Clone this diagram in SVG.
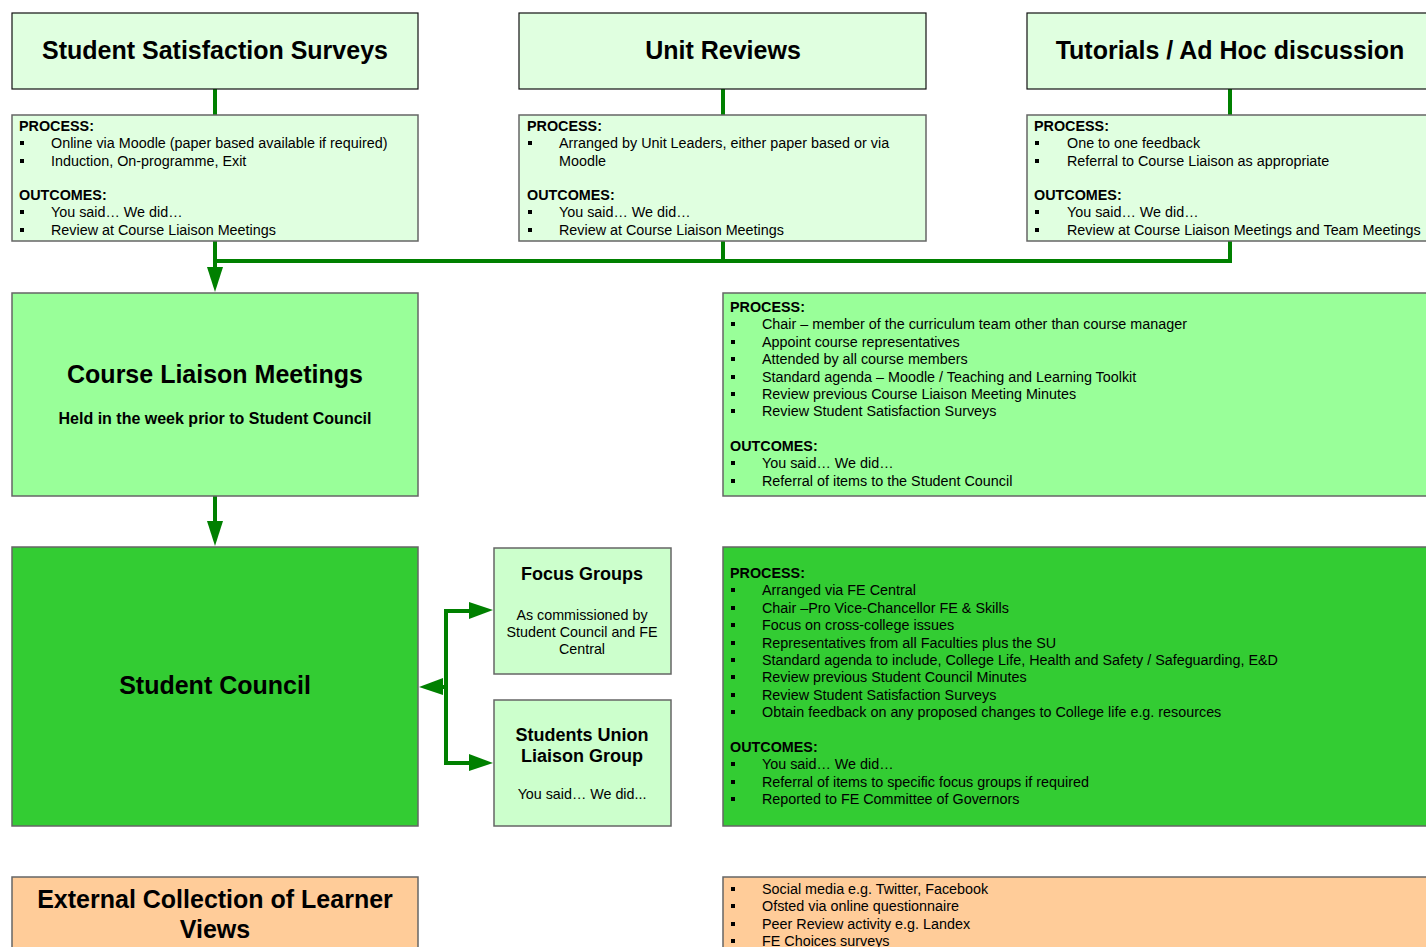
<svg xmlns="http://www.w3.org/2000/svg" width="1426" height="947" viewBox="0 0 1426 947">
<style>
text{font-family:"Liberation Sans",Arial,sans-serif;fill:#000}
.t{font-size:25px;font-weight:bold;text-anchor:middle}
.h{font-size:14.35px;font-weight:bold}
.i{font-size:14.35px}
.c{font-size:14.3px;text-anchor:middle}
.m{font-size:18px;font-weight:bold;text-anchor:middle}
.hd{stroke:#111;stroke-width:1.2}
.bx{stroke:#666;stroke-width:1.5}
.l1{fill:#E0FFE0}
.l2{fill:#CCFFCC}
.l3{fill:#99FF99}
.l4{fill:#33CC33}
.or{fill:#FFCC99}
.cn{stroke:#008000;stroke-width:4;fill:none}
.ah{fill:#008000}
</style>
<defs>
<rect id="b" width="4" height="4" fill="#000"/>
</defs>
<rect width="1426" height="947" fill="#fff"/>

<g id="connectors">
<line class="cn" x1="215" y1="89" x2="215" y2="115"/>
<line class="cn" x1="723" y1="89" x2="723" y2="115"/>
<line class="cn" x1="1230" y1="89" x2="1230" y2="115"/>
<polyline class="cn" points="723,241 723,261"/>
<polyline class="cn" points="215,261 1230,261 1230,241"/>
<line class="cn" x1="215" y1="241" x2="215" y2="270"/>
<polygon class="ah" points="207,267 223,267 215,292"/>
<line class="cn" x1="215" y1="496" x2="215" y2="524"/>
<polygon class="ah" points="207,521 223,521 215,546"/>
<polyline class="cn" points="472,611 446,611 446,763 472,763"/>
<polygon class="ah" points="469,602 469,619 493,610"/>
<polygon class="ah" points="469,754 469,771 493,763"/>
<line class="cn" x1="446" y1="687" x2="440" y2="687"/>
<polygon class="ah" points="443,678 443,695 419,687"/>
</g>

<g id="sss">
<rect class="l1 hd" x="12" y="13" width="406" height="76"/>
<text class="t" x="215" y="59">Student Satisfaction Surveys</text>
</g>
<g id="ur">
<rect class="l1 hd" x="519" y="13" width="407" height="76"/>
<text class="t" x="723" y="59">Unit Reviews</text>
</g>
<g id="tut">
<rect class="l1 hd" x="1027" y="13" width="420" height="76"/>
<text class="t" x="1230" y="59">Tutorials / Ad Hoc discussion</text>
</g>

<g id="sss-detail">
<rect class="l1 bx" x="12" y="115" width="406" height="126"/>
<text class="h" x="19" y="131">PROCESS:</text>
<use href="#b" x="20" y="141"/><text class="i" x="51" y="148">Online via Moodle (paper based available if required)</text>
<use href="#b" x="20" y="159"/><text class="i" x="51" y="166">Induction, On-programme, Exit</text>
<text class="h" x="19" y="200">OUTCOMES:</text>
<use href="#b" x="20" y="210"/><text class="i" x="51" y="217">You said… We did…</text>
<use href="#b" x="20" y="228"/><text class="i" x="51" y="235">Review at Course Liaison Meetings</text>
</g>

<g id="ur-detail">
<rect class="l1 bx" x="519" y="115" width="407" height="126"/>
<text class="h" x="527" y="131">PROCESS:</text>
<use href="#b" x="528" y="141"/><text class="i" x="559" y="148">Arranged by Unit Leaders, either paper based or via</text>
<text class="i" x="559" y="166">Moodle</text>
<text class="h" x="527" y="200">OUTCOMES:</text>
<use href="#b" x="528" y="210"/><text class="i" x="559" y="217">You said… We did…</text>
<use href="#b" x="528" y="228"/><text class="i" x="559" y="235">Review at Course Liaison Meetings</text>
</g>

<g id="tut-detail">
<rect class="l1 bx" x="1027" y="115" width="420" height="126"/>
<text class="h" x="1034" y="131">PROCESS:</text>
<use href="#b" x="1035" y="141"/><text class="i" x="1067" y="148">One to one feedback</text>
<use href="#b" x="1035" y="159"/><text class="i" x="1067" y="166">Referral to Course Liaison as appropriate</text>
<text class="h" x="1034" y="200">OUTCOMES:</text>
<use href="#b" x="1035" y="210"/><text class="i" x="1067" y="217">You said… We did…</text>
<use href="#b" x="1035" y="228"/><text class="i" x="1067" y="235">Review at Course Liaison Meetings and Team Meetings</text>
</g>

<g id="clm">
<rect class="l3 bx" x="12" y="293" width="406" height="203"/>
<text class="t" x="215" y="383">Course Liaison Meetings</text>
<text x="215" y="424" style="font-size:16px;font-weight:bold;text-anchor:middle">Held in the week prior to Student Council</text>
</g>

<g id="clm-detail">
<rect class="l3 bx" x="723" y="293" width="720" height="203"/>
<text class="h" x="730" y="312">PROCESS:</text>
<use href="#b" x="731" y="322"/><text class="i" x="762" y="329">Chair – member of the curriculum team other than course manager</text>
<use href="#b" x="731" y="340"/><text class="i" x="762" y="347">Appoint course representatives</text>
<use href="#b" x="731" y="357"/><text class="i" x="762" y="364">Attended by all course members</text>
<use href="#b" x="731" y="375"/><text class="i" x="762" y="382">Standard agenda – Moodle / Teaching and Learning Toolkit</text>
<use href="#b" x="731" y="392"/><text class="i" x="762" y="399">Review previous Course Liaison Meeting Minutes</text>
<use href="#b" x="731" y="409"/><text class="i" x="762" y="416">Review Student Satisfaction Surveys</text>
<text class="h" x="730" y="451">OUTCOMES:</text>
<use href="#b" x="731" y="461"/><text class="i" x="762" y="468">You said… We did…</text>
<use href="#b" x="731" y="479"/><text class="i" x="762" y="486">Referral of items to the Student Council</text>
</g>

<g id="sc">
<rect class="l4 bx" x="12" y="547" width="406" height="279"/>
<text class="t" x="215" y="694">Student Council</text>
</g>

<g id="fg">
<rect class="l2 bx" x="494" y="548" width="177" height="126"/>
<text class="m" x="582" y="580">Focus Groups</text>
<text class="c" x="582" y="620">As commissioned by</text>
<text class="c" x="582" y="637">Student Council and FE</text>
<text class="c" x="582" y="654">Central</text>
</g>

<g id="su">
<rect class="l2 bx" x="494" y="700" width="177" height="126"/>
<text class="m" x="582" y="741">Students Union</text>
<text class="m" x="582" y="762">Liaison Group</text>
<text class="c" x="582" y="799">You said… We did...</text>
</g>

<g id="sc-detail">
<rect class="l4 bx" x="723" y="547" width="720" height="279"/>
<text class="h" x="730" y="578">PROCESS:</text>
<use href="#b" x="731" y="588"/><text class="i" x="762" y="595">Arranged via FE Central</text>
<use href="#b" x="731" y="606"/><text class="i" x="762" y="613">Chair –Pro Vice-Chancellor FE &amp; Skills</text>
<use href="#b" x="731" y="623"/><text class="i" x="762" y="630">Focus on cross-college issues</text>
<use href="#b" x="731" y="641"/><text class="i" x="762" y="648">Representatives from all Faculties plus the SU</text>
<use href="#b" x="731" y="658"/><text class="i" x="762" y="665">Standard agenda to include, College Life, Health and Safety / Safeguarding, E&amp;D</text>
<use href="#b" x="731" y="675"/><text class="i" x="762" y="682">Review previous Student Council Minutes</text>
<use href="#b" x="731" y="693"/><text class="i" x="762" y="700">Review Student Satisfaction Surveys</text>
<use href="#b" x="731" y="710"/><text class="i" x="762" y="717">Obtain feedback on any proposed changes to College life e.g. resources</text>
<text class="h" x="730" y="752">OUTCOMES:</text>
<use href="#b" x="731" y="762"/><text class="i" x="762" y="769">You said… We did…</text>
<use href="#b" x="731" y="780"/><text class="i" x="762" y="787">Referral of items to specific focus groups if required</text>
<use href="#b" x="731" y="797"/><text class="i" x="762" y="804">Reported to FE Committee of Governors</text>
</g>

<g id="ext">
<rect class="or bx" x="12" y="877" width="406" height="90"/>
<text class="t" x="215" y="908">External Collection of Learner</text>
<text class="t" x="215" y="938">Views</text>
</g>

<g id="ext-detail">
<rect class="or bx" x="723" y="877" width="720" height="90"/>
<use href="#b" x="731" y="887"/><text class="i" x="762" y="894">Social media e.g. Twitter, Facebook</text>
<use href="#b" x="731" y="904"/><text class="i" x="762" y="911">Ofsted via online questionnaire</text>
<use href="#b" x="731" y="922"/><text class="i" x="762" y="929">Peer Review activity e.g. Landex</text>
<use href="#b" x="731" y="939"/><text class="i" x="762" y="946">FE Choices surveys</text>
</g>
</svg>
